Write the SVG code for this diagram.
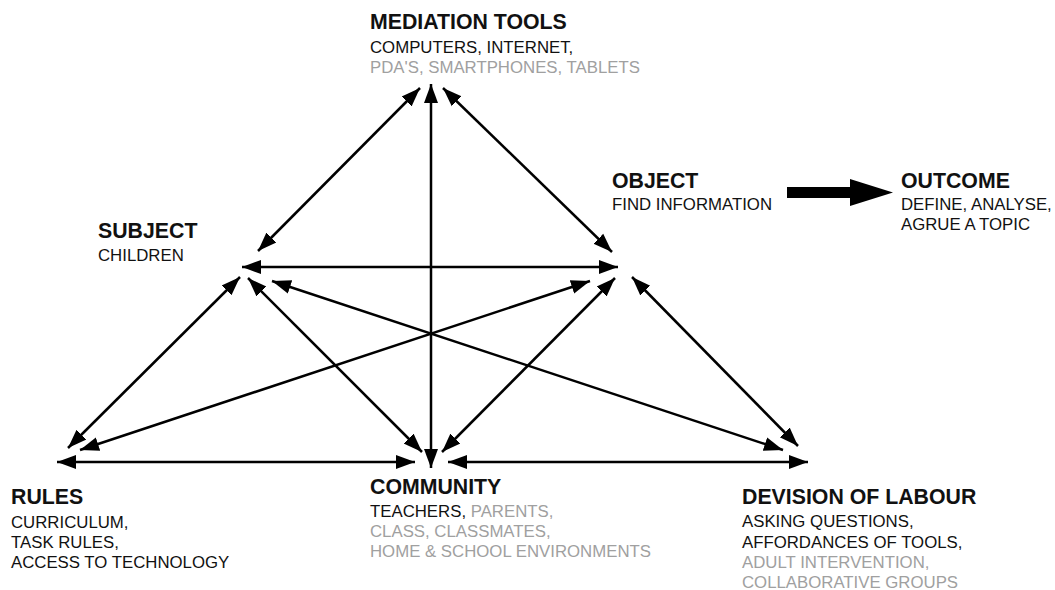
<svg xmlns="http://www.w3.org/2000/svg" width="1055" height="590" viewBox="0 0 1055 590">
<style>
text{font-family:"Liberation Sans",Arial,sans-serif;fill:#111}
.t{font-size:21.3px;font-weight:bold}
.b{font-size:16.8px}
.g{fill:#a0a0a0}
.c line{stroke:#000;stroke-width:2.5;marker-start:url(#ah);marker-end:url(#ah)}
</style>
<defs>
<marker id="ah" markerUnits="userSpaceOnUse" markerWidth="20" markerHeight="16" viewBox="0 0 20 16" refX="19" refY="8" orient="auto-start-reverse">
<path d="M0,1 L19,8 L0,15 Z" fill="#000"/>
</marker>
</defs>
<rect width="1055" height="590" fill="#fff"/>
<g id="connectors" class="c">
<line x1="431" y1="84" x2="431" y2="468"/>
<line x1="420" y1="88" x2="258" y2="251"/>
<line x1="443" y1="88" x2="612" y2="252"/>
<line x1="242" y1="267" x2="618" y2="267"/>
<line x1="240" y1="277" x2="68" y2="448"/>
<line x1="248" y1="278" x2="422" y2="452"/>
<line x1="272" y1="281" x2="783" y2="450"/>
<line x1="590" y1="281" x2="80" y2="450"/>
<line x1="615" y1="278" x2="442" y2="452"/>
<line x1="632" y1="277" x2="798" y2="446"/>
<line x1="57" y1="462" x2="415" y2="462"/>
<line x1="448" y1="462" x2="808" y2="462"/>
</g>
<g id="outcome-arrow">
<polygon points="787,187 850,187 850,179 893,192.5 850,206 850,198 787,198" fill="#000"/>
</g>
<g id="mediation">
<text class="t" x="370" y="29">MEDIATION TOOLS</text>
<text class="b" x="370" y="53">COMPUTERS, INTERNET,</text>
<text class="b g" x="370" y="73">PDA'S, SMARTPHONES, TABLETS</text>
</g>
<g id="object">
<text class="t" x="612" y="188">OBJECT</text>
<text class="b" x="612" y="210">FIND INFORMATION</text>
</g>
<g id="outcome">
<text class="t" x="901" y="188">OUTCOME</text>
<text class="b" x="901" y="210">DEFINE, ANALYSE,</text>
<text class="b" x="901" y="230">AGRUE A TOPIC</text>
</g>
<g id="subject">
<text class="t" x="98" y="238">SUBJECT</text>
<text class="b" x="98" y="261">CHILDREN</text>
</g>
<g id="rules">
<text class="t" x="11" y="504">RULES</text>
<text class="b" x="11" y="528">CURRICULUM,</text>
<text class="b" x="11" y="548">TASK RULES,</text>
<text class="b" x="11" y="568">ACCESS TO TECHNOLOGY</text>
</g>
<g id="community">
<text class="t" x="370" y="494">COMMUNITY</text>
<text class="b" x="370" y="517">TEACHERS, <tspan class="g">PARENTS,</tspan></text>
<text class="b g" x="370" y="537">CLASS, CLASSMATES,</text>
<text class="b g" x="370" y="557">HOME &amp; SCHOOL ENVIRONMENTS</text>
</g>
<g id="division">
<text class="t" x="742" y="504">DEVISION OF LABOUR</text>
<text class="b" x="742" y="527">ASKING QUESTIONS,</text>
<text class="b" x="742" y="548">AFFORDANCES OF TOOLS,</text>
<text class="b g" x="742" y="568">ADULT INTERVENTION,</text>
<text class="b g" x="742" y="588">COLLABORATIVE GROUPS</text>
</g>
</svg>
